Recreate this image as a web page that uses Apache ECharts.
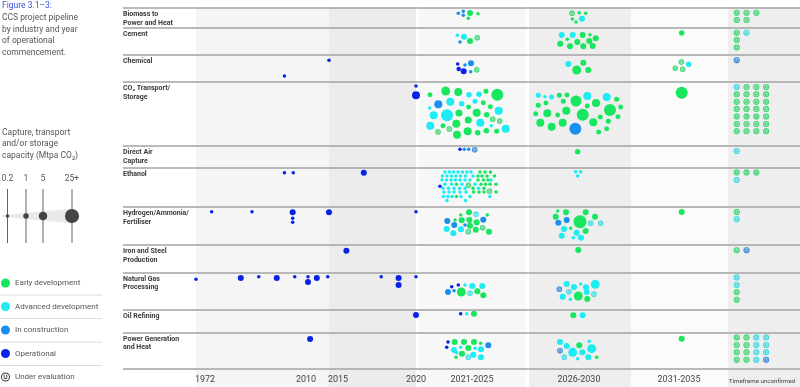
<!DOCTYPE html>
<html><head><meta charset="utf-8">
<script src="https://cdn.jsdelivr.net/npm/echarts@6/dist/echarts.min.js"></script>
<style>html,body{margin:0;padding:0;background:#fff}#c{width:800px;height:387px}</style>
</head><body><div id="c"></div>
<script>
// ---------------- DATA ----------------
const industries = ['Biomass to\nPower and Heat','Cement','Chemical','CO₂ Transport/\nStorage','Direct Air\nCapture','Ethanol','Hydrogen/Ammonia/\nFertiliser','Iron and Steel\nProduction','Natural Gas\nProcessing','Oil Refining','Power Generation\nand Heat'];
const statusNames = {E:'Early development', A:'Advanced development', C:'In construction', O:'Operational', U:'Under evaluation'};
const tickLabels = ['1972','2010','2015','2020','2021-2025','2026-2030','2031-2035','Timeframe unconfirmed'];
const sizeLegendLabels = ['0.2','1','5','25+'];
const sizeLegendValues = [0.2, 1, 5, 25];

// Operational projects up to 2020: [industry, year, capacity (Mtpa), lane offset]
const operationalHistoric = [
 [2,2015,0.2,5.3],[2,2002,0.2,21],
 [3,2020,0.2,4.3],[3,2020,4,13.6],
 [5,2002,0.2,5.4],[5,2005,0.2,5.4],[5,2017,1.4,5.4],
 [6,1977.3,0.2,5],[6,1991,0.2,5],[6,2004.8,1.4,5.6],[6,2004.8,0.2,11.6],[6,2004.8,0.2,15.6],[6,2015,1.4,5.6],[6,2020,0.2,5],
 [7,2016,1.4,5.7],
 [8,1972,0.2,7],[8,1987.2,1.4,5.7],[8,1993.3,0.2,4.4],[8,1999.4,1.4,5.7],[8,2005.5,0.2,4.4],[8,2010,0.2,4.4],[8,2010,1.4,9.7],[8,2012.1,1.4,5.7],[8,2014.7,0.2,4.4],[8,2018,0.2,4.4],[8,2019,1.4,5.7],[8,2019,1.4,12.7],[8,2020,0.2,4.4],
 [9,2020,1.4,5.7],
 [10,2010.5,1.4,6.7]
];

// Pipeline projects: [industry, offset in period, lane offset, capacity (Mtpa), status]  (U* = under evaluation)
const period2021_2025 = [
 [0,-13.7,5.8,0.2,'C'],[0,-8.7,3.8,0.2,'C'],[0,-8.7,7.8,0.2,'C'],[0,-2,5.5,1.4,'E'],[0,-3.7,10.8,0.2,'E'],[0,6,6.2,0.2,'E'],
 [1,-14.7,7.8,0.2,'A'],[1,-8,9.2,1.4,'A'],[1,-12,14.5,0.2,'C'],[1,-2,13.5,1.4,'E'],[1,5.3,10.2,null,'UE'],
 [2,-14.3,9,0.2,'O'],[2,-7,10,0.2,'C'],[2,-1,8.3,1.4,'C'],[2,-13.3,14,0.5,'O'],[2,-8.3,16.3,1.4,'O'],[2,-1.3,16.7,0.2,'C'],[2,4.7,14.7,null,'UE'],
 [3,-42,13,0.7,'E'],[3,-26.3,9.3,6,'E'],[3,-13.7,10.3,4,'E'],[3,-3,13,1,'A'],[3,7,12.6,1,'A'],[3,14,9.6,0.7,'E'],[3,25.3,13,18,'E'],
 [3,-42.3,26.3,0.2,'A'],[3,-33.7,22.6,4,'C'],[3,-21.7,20,4,'A'],[3,-10.3,22,1,'A'],[3,-3.3,25.3,0.7,'E'],[3,3,19.6,0.7,'A'],[3,11.3,21,0.7,'E'],[3,18.3,25,0.7,'E'],[3,26.7,29,4,'A'],
 [3,-38.3,33.6,4,'A'],[3,-25,33.6,18,'A'],[3,-13,31.3,2.5,'E'],[3,-3.7,38.3,2.5,'E'],[3,4.7,31,4,'E'],[3,14.7,33,1,'E'],[3,20.7,37.6,null,'UE'],[3,27.7,39.3,null,'UE'],
 [3,-41.7,44,4,'A'],[3,-29,44,0.7,'E'],[3,-15.7,42,4,'E'],[3,8.3,41,4,'A'],[3,19.3,44,0.2,'A'],[3,33.7,47,4,'A'],
 [3,-34,50.3,null,'UE'],[3,-22.7,47.3,null,'UE'],[3,-15,53,4,'E'],[3,-4.3,49.6,4,'E'],[3,5.7,51,1,'E'],[3,14.3,49,1,'E'],[3,24.7,49.6,0.7,'E'],
 [4,-12,3.6,0.2,'O'],[4,-7.7,3.6,0.2,'C'],[4,-3.3,3.6,0.2,'C'],[4,2.7,4,null,'UC'],
 [5,-27,4.7,0.2,'A'],[5,-22.5,4.7,0.2,'A'],[5,-18.5,4.7,0.2,'A'],[5,-14,4.7,0.2,'A'],[5,-9.5,4.7,0.2,'A'],[5,-5,4.7,0.2,'A'],[5,-1,4.7,0.2,'A'],[5,8,4.7,0.2,'E'],[5,13,4.7,0.2,'E'],[5,18.5,4.7,0.2,'E'],
 [5,-29.5,8.7,0.2,'A'],[5,-25,8.7,0.2,'A'],[5,-20.5,8.7,0.2,'A'],[5,-16,8.7,0.2,'A'],[5,-11.5,8.7,0.2,'A'],[5,-6.5,8.7,0.2,'A'],[5,1,8.7,0.2,'A'],[5,6,8.7,0.2,'E'],[5,10,8.7,0.2,'E'],[5,15,8.7,0.2,'E'],[5,22.5,8.7,0.2,'E'],
 [5,-30,12.7,0.2,'A'],[5,-25.5,12.7,0.2,'A'],[5,-21,12.7,0.2,'A'],[5,-16.5,12.7,0.2,'A'],[5,-12,12.7,0.2,'A'],[5,-7,12.7,0.2,'A'],[5,-2,12.7,0.2,'A'],[5,6,12.7,0.2,'E'],[5,11.5,12.7,0.2,'E'],[5,16,12.7,0.2,'E'],[5,19,12.7,0.2,'A'],
 [5,-32,19,0.2,'O'],[5,-27,17,0.2,'A'],[5,-20.5,17,0.2,'A'],[5,-15.5,17,0.2,'E'],[5,-10,17,0.2,'A'],[5,-3.5,18,null,'UE'],[5,3,17,0.2,'A'],[5,9,17,0.2,'E'],[5,13.5,17,0.2,'E'],[5,18,17,0.2,'E'],[5,24,17,0.2,'E'],
 [5,-29,21,0.2,'A'],[5,-23.5,21,0.2,'A'],[5,-18,21,0.2,'A'],[5,-12.5,21,0.2,'A'],[5,-7,21,0.2,'A'],[5,1,21,0.2,'E'],[5,6.5,21,0.2,'A'],[5,12,21,0.2,'E'],
 [5,-28,24.7,0.2,'A'],[5,-23,24.7,0.2,'A'],[5,-18,24.7,0.2,'A'],[5,-12,24.7,0.2,'A'],[5,-6,24.7,0.2,'A'],[5,1.5,24.7,0.2,'E'],[5,7,24.7,0.2,'E'],[5,12,24.7,0.2,'E'],[5,17.5,24,null,'UE'],[5,24,24.7,0.2,'E'],
 [5,-28.5,29.2,0.2,'A'],[5,-24,29.2,0.2,'A'],[5,-20,29.2,0.2,'A'],[5,-15.5,29.2,0.2,'E'],[5,-11,29.2,0.2,'A'],[5,-2,29.2,0.2,'A'],[5,18,29.2,0.2,'A'],
 [5,-25,33.2,0.2,'A'],[5,-6.5,33.2,0.2,'A'],
 [6,-11.3,8.3,0.2,'E'],[6,-3,5.6,1.4,'E'],[6,4,7.6,null,'UA'],[6,15.3,8.3,0.2,'E'],[6,-24.7,14.3,1.4,'C'],[6,-17,13.3,0.2,'E'],[6,-10.3,13.6,1.4,'E'],[6,-2.7,13.3,1.4,'E'],[6,4.7,15.6,1.4,'E'],[6,11.3,13,1.4,'C'],
 [6,-17.7,18.3,1.4,'C'],[6,-7,18.3,0.2,'C'],[6,-2,19,1.4,'E'],[6,10.7,21,null,'UE'],[6,-25.3,22.3,1.4,'A'],[6,-11,22.6,1.4,'A'],[6,3.7,23,1.4,'E'],[6,-18.7,26.6,1.4,'A'],[6,-3.7,25,null,'UE'],[6,17,25,1.4,'E'],
 [8,-20.3,14.4,0.2,'O'],[8,-13.7,12.7,0.2,'O'],[8,-7,12.7,0.2,'A'],[8,0.3,13.7,1.4,'A'],[8,10.3,13.7,1.4,'A'],[8,-24,19.7,1.4,'C'],[8,-18,18.4,0.2,'C'],[8,-10.7,19.7,6,'E'],[8,-2,21,null,'UA'],[8,5.3,19,1.4,'E'],[8,11.3,23,1.4,'E'],
 [9,-11.3,4.4,0.2,'O'],[9,-5.3,4.4,0.2,'A'],[9,2,4.4,1.4,'E'],
 [10,-24,9.7,0.2,'O'],[10,-25.3,15,0.2,'O'],[10,-17.3,9.7,1.4,'E'],[10,-8,9.7,1.4,'E'],[10,2,9.7,1.4,'E'],[10,8.7,11,0.2,'E'],[10,16.3,13,1.4,'C'],[10,-18,17.7,1.4,'A'],[10,-11.3,15,0.2,'A'],
 [10,-3.7,15.7,1.4,'E'],[10,3,16,0.2,'A'],[10,9,17,1.4,'A'],[10,-15.3,20.4,0.2,'A'],[10,-10,21.4,1.4,'E'],[10,-3.7,25,null,'UA'],[10,1.3,22.4,1.4,'A'],[10,9,25,1.4,'A'],[10,-16,25,0.2,'E']
];
const period2026_2030 = [
 [0,-7,5.8,null,'UE'],[0,0.3,5.2,0.2,'E'],[0,6.7,5.8,0.2,'E'],[0,-6.7,11.5,0.2,'E'],[0,-3,14.5,0.2,'E'],[0,3,11.2,1.4,'A'],
 [1,-17.3,7.5,1.4,'A'],[1,-11.7,11.8,0.2,'E'],[1,-6.3,7.5,1.4,'A'],[1,3.7,7.5,1.4,'E'],[1,11,7.2,0.2,'E'],[1,-18.7,16.2,1.4,'E'],[1,-9,18.8,1.4,'E'],[1,-1.7,14.5,1.4,'E'],[1,4.3,18.8,1.4,'E'],[1,10.3,13.5,1.4,'E'],[1,16.7,10.8,1.4,'E'],[1,13.7,18.5,1.4,'E'],
 [2,-10.7,9,1.4,'A'],[2,4.3,7.7,1.4,'E'],[2,-2.3,15,6,'E'],[2,9.3,15,1.4,'E'],
 [3,-40.7,13.6,0.7,'A'],[3,-34,15,0.2,'A'],[3,-27.3,15.3,0.7,'A'],[3,-19.7,13.6,0.7,'E'],[3,-12,13.3,0.7,'E'],[3,-3,19.3,13,'E'],[3,8.3,14.3,4,'A'],[3,27.7,15.3,4,'A'],[3,37.7,17.6,0.7,'E'],
 [3,-40.7,23.6,0.7,'E'],[3,-33,21.3,0.7,'E'],[3,-15.7,19.6,0.7,'E'],[3,17,21.3,4,'E'],[3,8.3,24.3,0.7,'E'],[3,31,28.3,18,'E'],[3,41.7,25.3,0.7,'E'],
 [3,-43.3,32,0.7,'E'],[3,-31.7,31.6,4,'E'],[3,-21.3,33.3,0.7,'E'],[3,-12.7,29,4,'E'],[3,3.7,33,18,'E'],[3,21.3,35.3,0.7,'E'],[3,39,35,0.7,'E'],
 [3,-38.7,41,4,'E'],[3,-27.3,45,4,'E'],[3,-16.3,41,4,'E'],[3,-3.7,47,18,'C'],[3,14.3,40.6,4,'E'],[3,29.3,39.6,0.7,'E'],[3,27.7,47,0.7,'E'],[3,19.7,50.3,0.7,'E'],
 [4,-1.3,6,1,'E'],
 [5,-3.3,4.4,0.2,'A'],[5,1.7,4.4,0.2,'A'],[5,-1.3,8.7,0.2,'A'],
 [6,-21.3,4.3,0.2,'E'],[6,-13,5.6,1.4,'E'],[6,6.7,5.6,1.4,'E'],[6,16,10,1.4,'E'],[6,-23.3,10,1.4,'E'],[6,-12.3,13.3,1.4,'C'],[6,-20.7,16,1.4,'C'],[6,1,15,25,'E'],[6,11.7,16.6,null,'UA'],[6,21.7,16.6,null,'UA'],
 [6,-8.3,21.6,0.2,'E'],[6,-15,22.3,1.4,'A'],[6,6.7,24.3,1.4,'E'],[6,-2.3,26,1.4,'A'],[6,-17.3,29,1.4,'A'],[6,-5.7,31,0.2,'A'],[6,2,31,1.4,'A'],
 [7,-0.7,5,1.4,'E'],
 [8,-19.7,17,null,'UC'],[8,-12.3,11.7,1.4,'A'],[8,-5,14.7,1.4,'A'],[8,1.7,11.7,0.2,'A'],[8,7,15,1.4,'A'],[8,16.3,12,6,'A'],[8,-16.3,24.4,1.4,'A'],[8,-10,19.4,null,'UA'],[8,-8.7,27,0.2,'A'],[8,-0.7,23.7,6,'E'],[8,7.7,19.7,1.4,'A'],[8,8.3,26.7,1.4,'E'],[8,15,22,null,'UA'],
 [9,-5.7,6,1.4,'E'],[9,3.7,6,1.4,'A'],
 [10,-19,9.7,1.4,'A'],[10,-12.3,13.7,1.4,'A'],[10,0.3,13,1.4,'E'],[10,10.3,9,0.2,'A'],[10,12.7,16.4,6,'A'],[10,-19,18.4,null,'UC'],[10,-6.3,20,6,'A'],[10,3.3,20,1.4,'A'],[10,-14.7,25,null,'UA'],[10,-1.3,26.4,0.2,'A'],[10,9.3,25,1.4,'A'],[10,17.7,25,0.2,'E']
];
const period2031_2035 = [
 [1,-0.3,5.5,1,'E'],
 [2,-0.7,7,null,'UE'],[2,6.7,9.3,1,'A'],[2,-6.7,13.3,null,'UE'],[2,0.7,14.3,null,'UE'],
 [3,-0.3,11,18,'E'],
 [6,-0.3,5.3,1.4,'E'],
 [10,-0.3,6.4,1.4,'E']
];
// Timeframe unconfirmed (all under evaluation): [industry, column, line, status]
const unconfirmed = [
 [0,0,0,'E'],[0,1,0,'E'],[0,2,0,'E'],[0,0,1,'E'],[0,1,1,'E'],
 [1,0,0,'E'],[1,1,0,'A'],[1,0,1,'E'],[1,0,2,'E'],
 [2,0,0,'C'],
 [3,0,0,'A'],[3,1,0,'E'],[3,2,0,'E'],[3,3,0,'E'],
 [3,0,1,'E'],[3,1,1,'E'],[3,2,1,'E'],[3,3,1,'E'],
 [3,0,2,'E'],[3,1,2,'E'],[3,2,2,'E'],[3,3,2,'E'],
 [3,0,3,'E'],[3,1,3,'E'],[3,2,3,'E'],[3,3,3,'E'],
 [3,0,4,'E'],[3,1,4,'E'],[3,2,4,'E'],[3,3,4,'E'],
 [3,0,5,'E'],[3,1,5,'E'],[3,2,5,'E'],[3,3,5,'E'],
 [3,0,6,'E'],[3,1,6,'E'],[3,2,6,'E'],[3,3,6,'E'],
 [4,0,0,'A'],
 [5,0,0,'E'],[5,1,0,'E'],[5,2,0,'E'],[5,0,1,'A'],
 [6,0,0,'E'],[6,0,1,'A'],
 [7,0,0,'E'],[7,1,0,'C'],
 [8,0,0,'A'],[8,0,1,'A'],[8,0,2,'E'],[8,0,3,'E'],
 [10,0,0,'E'],[10,1,0,'E'],[10,2,0,'A'],[10,3,0,'A'],
 [10,0,1,'E'],[10,1,1,'E'],[10,2,1,'A'],[10,3,1,'A'],
 [10,0,2,'E'],[10,1,2,'E'],[10,2,2,'A'],[10,3,2,'A'],
 [10,0,3,'E'],[10,1,3,'E'],[10,2,3,'A'],[10,3,3,'C']
];

// ---------------- LAYOUT / STYLE ----------------
const GRID_LEFT = 123, GRID_TOP = 7.5;
const X_MAX = 677, Y_MAX = 379.5;
const ROW_EDGES = [0,20,47.5,74.2,138.2,159.8,199.2,237.5,264.8,301.8,324.8,361.5];
const YEAR_KNOTS = [[1972,73],[2010,185],[2015,206],[2020,293]];
const PERIOD_X = [349,456,559];
const TBC = {x0:613.7, dx:9.8, y0:5.2, dy:7.4};
const TICK_POS = [82,183,215,293,349,456,556,639];
const BANDS = [[73,206,'#f5f5f5'],[206,293,'#ececec'],[296,403,'#f7f7f7'],[406,508,'#eeeeee'],[508,605,'#fbfbfb'],[605,677,'#eeeeee']];
const COLORS = {E:'#17e65e', A:'#1decf2', C:'#1a8ff0', O:'#0a22e8'};
const RING = {E:'#35c86a', A:'#2fcfda', C:'#2a78cc'};
const FONT = 'Roboto, "Noto Sans", sans-serif';
const U_PATH = 'path://M12 0A12 12 0 1 1 12 24A12 12 0 1 1 12 0ZM12 2.6A9.4 9.4 0 1 0 12 21.4A9.4 9.4 0 1 0 12 2.6ZM7.2 6H9.6V13A2.4 2.4 0 0 0 14.4 13V6H16.8V13A4.8 4.8 0 0 1 7.2 13Z';

function yearToX(y){
  for (let i=1;i<YEAR_KNOTS.length;i++){
    const [y0,x0]=YEAR_KNOTS[i-1],[y1,x1]=YEAR_KNOTS[i];
    if (y<=y1 || i===YEAR_KNOTS.length-1) return x0+(y-y0)*(x1-x0)/(y1-y0);
  }
}
function capSize(c){ return 5.5*Math.pow(c,0.27); }

const pts = {E:[],A:[],C:[],O:[]};
const upts = [];
operationalHistoric.forEach(([ind,yr,cap,dy]) => pts.O.push([yearToX(yr), ROW_EDGES[ind]+dy, cap]));
[period2021_2025, period2026_2030, period2031_2035].forEach((arr,pi) => arr.forEach(([ind,dx,dy,cap,st]) => {
  const x = PERIOD_X[pi]+dx, y = ROW_EDGES[ind]+dy;
  if (st[0]==='U') upts.push([x,y,5.4,st[1]]); else pts[st].push([x,y,cap]);
}));
unconfirmed.forEach(([ind,col,line,st]) => upts.push([TBC.x0+col*TBC.dx, ROW_EDGES[ind]+TBC.y0+line*TBC.dy, 6, st]));

const series = [{
  type:'scatter', name:'layout', data:[], z:0, silent:true,
  markArea:{silent:true, z:0, data: BANDS.map(b => [{xAxis:b[0], yAxis:0, itemStyle:{color:b[2]}},{xAxis:b[1], yAxis:Y_MAX}])},
  markLine:{silent:true, symbol:['none','none'], label:{show:false}, lineStyle:{color:'#a3a3a3', width:1.5, type:'solid'},
    data: ROW_EDGES.map(v => ({yAxis:v}))}
}];
['E','A','C','O'].forEach(s => series.push({
  type:'scatter', name:statusNames[s], data:pts[s], z:3, symbol:'circle',
  symbolSize: v => capSize(v[2]), itemStyle:{color:COLORS[s], opacity:1}, emphasis:{disabled:true}
}));
series.push({
  type:'scatter', name:statusNames.U, data:upts, z:3, symbol:'circle', symbolSize: v => v[2],
  itemStyle:{color: p => COLORS[p.data[3]], opacity:0.45}, emphasis:{disabled:true}
});
series.push({
  type:'scatter', name:statusNames.U, data:upts, z:4, symbol:U_PATH, symbolSize: v => v[2],
  itemStyle:{color: p => RING[p.data[3]], opacity:0.95}, emphasis:{disabled:true}
});

function nearestIdx(arr, v){ let b=0; arr.forEach((a,i)=>{ if (Math.abs(a-v)<Math.abs(arr[b]-v)) b=i; }); return b; }
const rowLabelPos = ROW_EDGES.slice(0,11).map(v => v+2.4);

const graphic = [
  {type:'text', left:2, top:1, style:{text:'Figure 3.1–3:', fill:'#3452de', font:'8.5px '+FONT}},
  {type:'text', left:2, top:12.5, style:{text:'CCS project pipeline\nby industry and year\nof operational\ncommencement.', fill:'#555', font:'8.5px '+FONT, lineHeight:11.5}},
  {type:'text', left:2, top:127, style:{text:'Capture, transport\nand/or storage\ncapacity (Mtpa CO₂)', fill:'#555', font:'8.5px '+FONT, lineHeight:11.5}},
  {type:'polygon', shape:{points:[[2,215.3],[72,208.5],[72,223.5],[2,216.7]]}, style:{fill:'#e9e9e9'}},
];
const SL_X = [7.5,26,43,72];
sizeLegendLabels.forEach((t,i) => {
  graphic.push({type:'line', shape:{x1:SL_X[i], y1:189, x2:SL_X[i], y2:243}, style:{stroke:'#666', lineWidth:1}});
  graphic.push({type:'circle', shape:{cx:SL_X[i], cy:216, r:capSize(sizeLegendValues[i])/2 + (i===3?0.5:0)}, style:{fill:'#444'}});
  graphic.push({type:'text', x:SL_X[i], y:174, style:{text:t, fill:'#555', font:'8.5px '+FONT, align:'center'}});
});
[295,318.5,342,365.5].forEach(y => graphic.push({type:'line', shape:{x1:0, y1:y, x2:102, y2:y}, style:{stroke:'#dcdcdc', lineWidth:1}}));

const option = {
  animation:false,
  grid:{left:GRID_LEFT, right:0, top:GRID_TOP, bottom:0},
  xAxis:{type:'value', min:0, max:X_MAX, position:'bottom',
    axisLine:{show:false}, axisTick:{show:false}, splitLine:{show:false},
    axisLabel:{customValues:TICK_POS, inside:true, margin:3, color:'#444', fontSize:9, fontFamily:FONT,
      formatter: v => { const i = nearestIdx(TICK_POS, v); return i===7 ? '{s|'+tickLabels[i]+'}' : tickLabels[i]; },
      rich:{s:{fontSize:6.2, color:'#444', fontFamily:FONT}}}},
  yAxis:{type:'value', min:0, max:Y_MAX, inverse:true,
    axisLine:{show:false}, axisTick:{show:false}, splitLine:{show:false},
    axisLabel:{customValues:rowLabelPos, inside:true, margin:0, verticalAlign:'top', align:'left',
      color:'#3a3a3a', fontSize:7, fontWeight:'bold', fontFamily:FONT, lineHeight:8.6,
      formatter: v => industries[nearestIdx(rowLabelPos, v)]}},
  legend:{orient:'vertical', left:1, top:277, bottom:0, itemWidth:9, itemHeight:9, itemGap:11.5, selectedMode:false, padding:0,
    textStyle:{fontSize:8, lineHeight:12, color:'#555', fontFamily:FONT},
    data:[
      {name:statusNames.E, icon:'circle', itemStyle:{color:COLORS.E}},
      {name:statusNames.A, icon:'circle', itemStyle:{color:COLORS.A}},
      {name:statusNames.C, icon:'circle', itemStyle:{color:COLORS.C}},
      {name:statusNames.O, icon:'circle', itemStyle:{color:COLORS.O}},
      {name:statusNames.U, icon:U_PATH, itemStyle:{color:'#333', opacity:1}}
    ]},
  graphic: graphic,
  series: series
};
const chart = echarts.init(document.getElementById('c'), null, {renderer:'canvas'});
chart.setOption(option);
</script></body></html>
